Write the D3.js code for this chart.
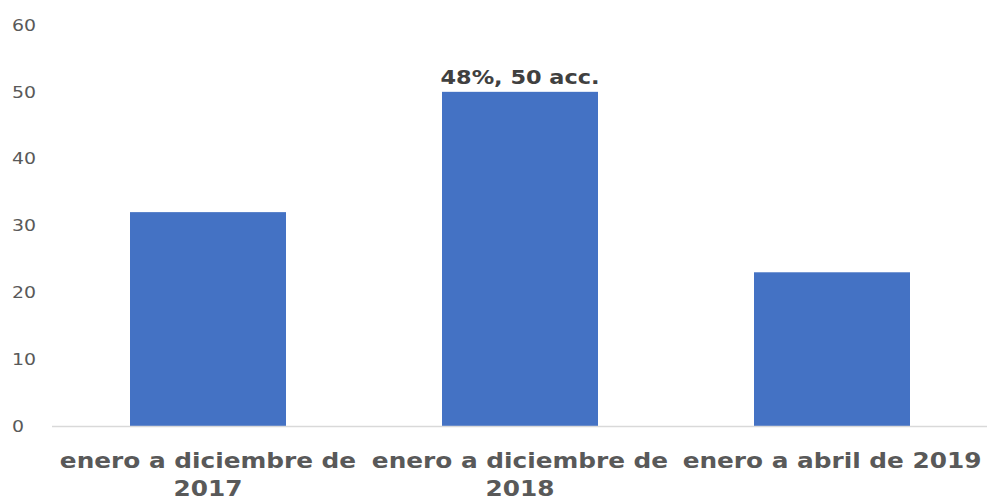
<!DOCTYPE html>
<html>
<head>
<meta charset="utf-8">
<script src="https://cdn.jsdelivr.net/npm/d3@7"></script>
<style>
  body { margin: 0; background: #fff; }
  text { font-family: "DejaVu Sans", Verdana, sans-serif; }
</style>
</head>
<body>
<svg id="chart" width="987" height="504"></svg>
<script>
// data
var categories = ['enero a diciembre de 2017', 'enero a diciembre de 2018', 'enero a abril de 2019'];
var values = [32, 50, 23];
var y_ticks = [0, 10, 20, 30, 40, 50, 60];
var bar_labels = ['', '48%, 50 acc.', ''];

// the reference text is drawn a little wide
var sx = 1.18;

var svg = d3.select('#chart');

var x = d3.scaleBand().domain(categories).range([52, 988]).paddingInner(0.5).paddingOuter(0.25);
var y = d3.scaleLinear().domain([0, 60]).range([426, 25]);

// y tick labels (left aligned, no axis line)
svg.append('g')
   .selectAll('g')
   .data(y_ticks)
   .enter()
   .append('g')
   .attr('transform', d => 'translate(12,' + y(d) + ') scale(' + sx + ',1)')
   .append('text')
   .attr('dy', '0.36em')
   .attr('font-size', 16)
   .attr('fill', '#595959')
   .text(d => d);

// bars
svg.append('g')
   .selectAll('rect')
   .data(values)
   .enter()
   .append('rect')
   .attr('x', (d, i) => x(categories[i]))
   .attr('y', d => y(d))
   .attr('width', x.bandwidth())
   .attr('height', d => y(0) - y(d))
   .attr('fill', '#4472C4');

// baseline
svg.append('line')
   .attr('x1', 52)
   .attr('x2', 987)
   .attr('y1', y(0) + 0.5)
   .attr('y2', y(0) + 0.5)
   .attr('stroke', '#d9d9d9')
   .attr('stroke-width', 1.5);

// data labels
svg.append('g')
   .selectAll('g')
   .data(values)
   .enter()
   .append('g')
   .attr('transform', (d, i) => 'translate(' + (x(categories[i]) + x.bandwidth() / 2) + ',' + (y(d) - 8) + ') scale(' + sx + ',1)')
   .append('text')
   .attr('text-anchor', 'middle')
   .attr('font-size', 19)
   .attr('font-weight', 'bold')
   .attr('fill', '#404040')
   .text((d, i) => bar_labels[i]);

// category labels, wrapped to the band step
var max_w = (x.step() - 4) / sx;
svg.append('g')
   .selectAll('g')
   .data(categories)
   .enter()
   .append('g')
   .attr('transform', d => 'translate(' + (x(d) + x.bandwidth() / 2) + ',468) scale(' + sx + ',1)')
   .append('text')
   .attr('text-anchor', 'middle')
   .attr('font-size', 21)
   .attr('font-weight', 'bold')
   .attr('fill', '#595959')
   .each(function (d) {
     var el = d3.select(this);
     var words = d.split(' ');
     var line = [];
     var row = 0;
     var tspan = el.append('tspan').attr('x', 0).attr('y', 0);
     words.forEach(w => {
       line.push(w);
       tspan.text(line.join(' '));
       if (tspan.node().getComputedTextLength() > max_w && line.length > 1) {
         line.pop();
         tspan.text(line.join(' '));
         line = [w];
         row++;
         tspan = el.append('tspan').attr('x', 0).attr('y', row * 28).text(w);
       }
     });
   });
</script>
</body>
</html>
